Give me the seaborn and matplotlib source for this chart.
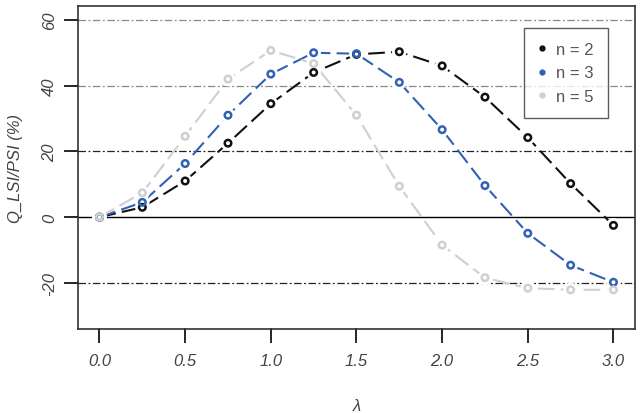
import numpy as np
import pandas as pd
import matplotlib
matplotlib.use("Agg")
import matplotlib.pyplot as plt
import seaborn as sns
from matplotlib.lines import Line2D

# data
lam = [0.0, 0.25, 0.5, 0.75, 1.0, 1.25, 1.5, 1.75, 2.0, 2.25, 2.5, 2.75, 3.0]
q_n2 = [0.0, 3.0, 11.0, 22.5, 34.5, 44.0, 49.5, 50.3, 46.0, 36.5, 24.2, 10.2, -2.5]
q_n3 = [0.0, 4.5, 16.3, 31.0, 43.5, 50.0, 49.7, 41.0, 26.6, 9.6, -4.9, -14.6, -19.8]
q_n5 = [0.0, 7.4, 24.6, 42.0, 50.7, 46.7, 31.0, 9.4, -8.5, -18.4, -21.6, -22.1, -22.1]
series_names = ["n = 2", "n = 3", "n = 5"]
xticks = [0.0, 0.5, 1.0, 1.5, 2.0, 2.5, 3.0]
xtick_labels = ["0.0", "0.5", "1.0", "1.5", "2.0", "2.5", "3.0"]
yticks = [-20, 0, 20, 40, 60]
ytick_labels = ["-20", "0", "20", "40", "60"]
hlines_at = [60, 40, 20, -20]

colors = {"n = 2": "#111111", "n = 3": "#2f62b5", "n = 5": "#cfcfcf"}

df = pd.DataFrame({
    "lam": lam * 3,
    "q": q_n2 + q_n3 + q_n5,
    "n": [s for s in series_names for _ in lam],
})

sns.set_style("ticks")
plt.rcParams["font.family"] = ["Liberation Sans", "DejaVu Sans"]

fig, ax = plt.subplots(figsize=(6.4, 4.14), dpi=100)
fig.subplots_adjust(left=0.122, right=0.992, top=0.983, bottom=0.203)

# reference lines
for h in hlines_at:
    ax.axhline(h, color="#888888" if h > 30 else "#222222", lw=0.9,
               linestyle=(0, (6, 2, 1.5, 2)), zorder=1)
ax.axhline(0, color="black", lw=1.0, zorder=1)

# dashed lines
sns.lineplot(data=df, x="lam", y="q", hue="n", palette=colors,
             style="n", dashes={s: (8, 3) for s in series_names},
             lw=1.5, legend=False, ax=ax, zorder=2)

# white halo to break line around points (R type="b")
sns.scatterplot(data=df, x="lam", y="q", color="white", s=110,
                edgecolor="none", legend=False, ax=ax, zorder=3)
# open circles
for name in series_names:
    sub = df[df["n"] == name]
    ax.scatter(sub["lam"], sub["q"], s=22, facecolor="none",
               edgecolor=colors[name], linewidths=1.8, zorder=4)

ax.set_xlim(-0.125, 3.125)
ax.set_ylim(-34, 64.2)
ax.set_xticks(xticks)
ax.set_xticklabels(xtick_labels)
ax.set_yticks(yticks)
ax.set_yticklabels(ytick_labels, rotation=90, va="center")

tcol = "#444444"
ax.tick_params(axis="x", direction="out", length=10, width=1.4, color="#2a2a2a",
               bottom=True, labelsize=12, labelcolor=tcol, pad=7)
ax.tick_params(axis="y", direction="out", length=10, width=1.4, color="#2a2a2a",
               left=True, labelsize=12, labelcolor=tcol, pad=5)
for lab in ax.get_xticklabels() + ax.get_yticklabels():
    lab.set_style("italic")

# outward tick marks drawn as plain lines (R style)
xtr = ax.get_xaxis_transform()
ytr = ax.get_yaxis_transform()
for xt in xticks:
    ax.plot([xt, xt], [0, -0.031], transform=xtr, color="#2a2a2a", lw=1.3,
            clip_on=False, zorder=5)
for yt in yticks:
    ax.plot([0, -0.018], [yt, yt], transform=ytr, color="#2a2a2a", lw=1.3,
            clip_on=False, zorder=5)

for sp in ax.spines.values():
    sp.set_visible(True)
    sp.set_color("#333333")
    sp.set_linewidth(1.2)

ax.set_xlabel("λ", fontsize=12, style="italic", color=tcol, labelpad=22)
ax.set_ylabel("Q_LSI/PSI (%)", fontsize=12, style="italic", color=tcol, labelpad=14)

handles = [Line2D([], [], ls="none", marker="o", ms=3.5, color=colors[s]) for s in series_names]
leg = ax.legend(handles, series_names, loc="upper right", bbox_to_anchor=(0.952, 0.932),
                borderaxespad=0, frameon=True, fancybox=False, fontsize=12,
                handlelength=0.5, handletextpad=0.6, borderpad=0.85,
                labelspacing=0.5)
leg.get_frame().set_edgecolor("#333333")
leg.get_frame().set_linewidth(1.0)
for t in leg.get_texts():
    t.set_color("#555555")

fig.savefig("out.png", dpi=100)
